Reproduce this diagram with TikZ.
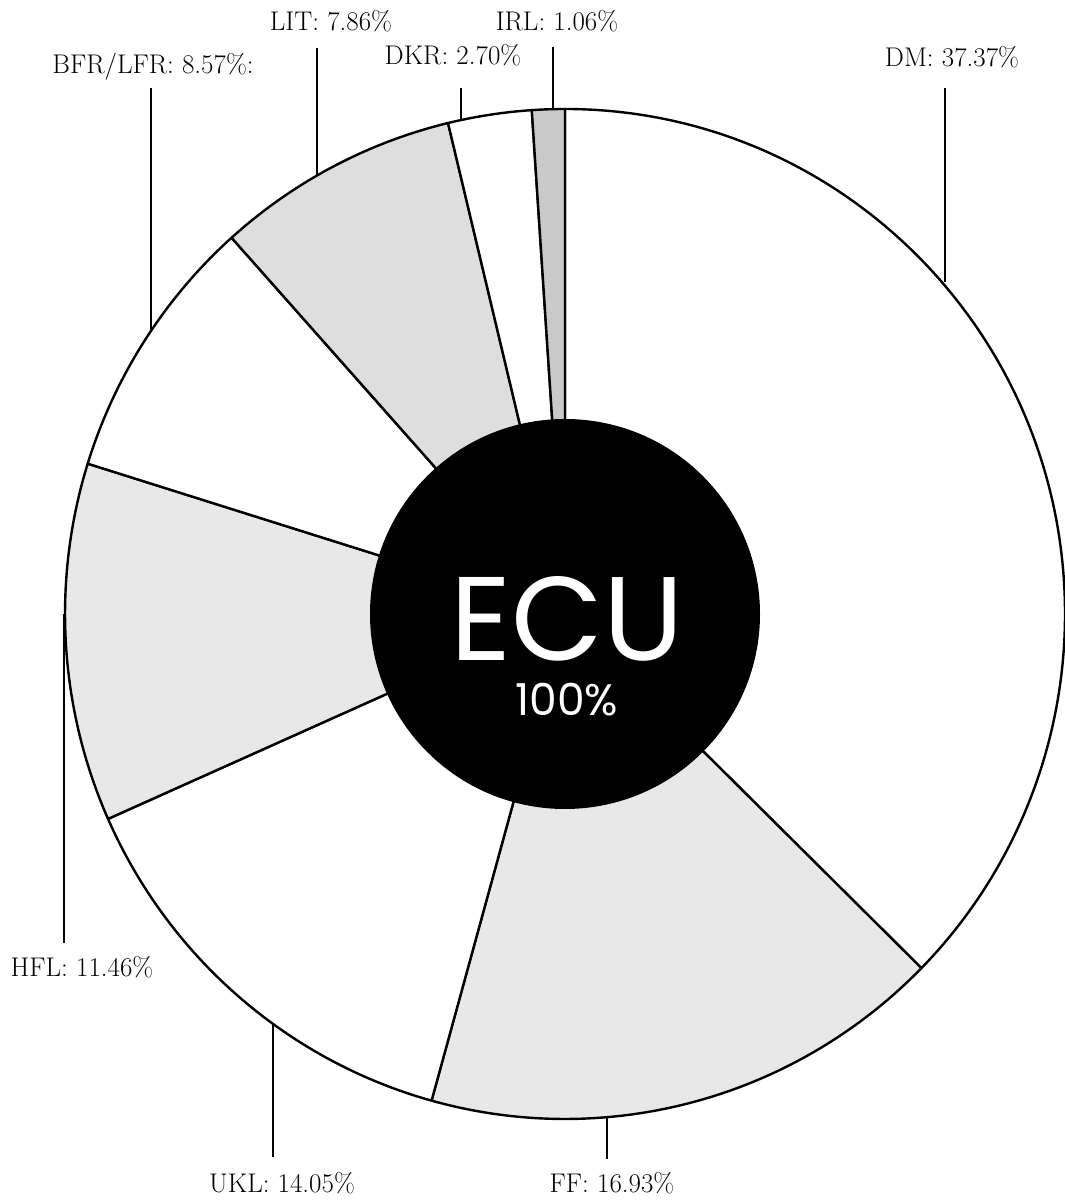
\documentclass[tikz,border=0pt]{standalone}
\usepackage{fontspec}
\newfontfamily\ecufont{Poppins}
\usepackage{tikz}
\pgfdeclarelayer{background}
\pgfdeclarelayer{foreground}
\pgfsetlayers{background,main,foreground}
\tikzset{
  slice/.style={draw=black, line width=2.4pt, line join=round},
  tick/.style={draw=black, line width=2.6pt},
  lbl/.style={anchor=base, inner sep=0pt, font=\fontsize{27}{32}\selectfont},
}

\begin{document}
\begin{tikzpicture}[x=1pt,y=1pt]
\useasboundingbox (0,0) rectangle (1065,1203);
\coordinate (c) at (565,589);
\begin{pgfonlayer}{background}
% shares, clockwise from the top
\draw[slice,fill=white] (c) -- ++(90:500 and 505) arc[start angle=90, end angle=-44.53, x radius=500, y radius=505] -- cycle;
\draw[slice,fill=gray!18] (c) -- ++(-44.53:500 and 505) arc[start angle=-44.53, end angle=-105.48, x radius=500, y radius=505] -- cycle;
\draw[slice,fill=white] (c) -- ++(-105.48:500 and 505) arc[start angle=-105.48, end angle=-156.06, x radius=500, y radius=505] -- cycle;
\draw[slice,fill=gray!18] (c) -- ++(-156.06:500 and 505) arc[start angle=-156.06, end angle=-197.32, x radius=500, y radius=505] -- cycle;
\draw[slice,fill=white] (c) -- ++(-197.32:500 and 505) arc[start angle=-197.32, end angle=-228.17, x radius=500, y radius=505] -- cycle;
\draw[slice,fill=gray!26] (c) -- ++(-228.17:500 and 505) arc[start angle=-228.17, end angle=-256.47, x radius=500, y radius=505] -- cycle;
\draw[slice,fill=white] (c) -- ++(-256.47:500 and 505) arc[start angle=-256.47, end angle=-266.19, x radius=500, y radius=505] -- cycle;
\draw[slice,fill=gray!42] (c) -- ++(-266.19:500 and 505) arc[start angle=-266.19, end angle=-270, x radius=500, y radius=505] -- cycle;
\end{pgfonlayer}
% label lines
\coordinate (dmrim) at (945,921);   \coordinate (dmtop) at (945,1115);
\coordinate (irlrim) at (553,1093); \coordinate (irltop) at (553,1156);
\coordinate (dkrrim) at (461,1083); \coordinate (dkrtop) at (461,1115);
\coordinate (litrim) at (317,1027); \coordinate (littop) at (317,1155);
\coordinate (bfrrim) at (151,872);  \coordinate (bfrtop) at (151,1115);
\coordinate (hflrim) at (64,589);   \coordinate (hflend) at (64,260);
\coordinate (uklrim) at (273,179);  \coordinate (uklend) at (273,46);
\coordinate (ffrim) at (607,86);    \coordinate (ffend) at (607,44);
\draw[tick] (dmrim) -- (dmtop);
\draw[tick] (irlrim) -- (irltop);
\draw[tick] (dkrrim) -- (dkrtop);
\draw[tick] (litrim) -- (littop);
\draw[tick] (bfrrim) -- (bfrtop);
\draw[tick] (hflrim) -- (hflend);
\draw[tick] (uklrim) -- (uklend);
\draw[tick] (ffrim) -- (ffend);
\node[lbl] (dm) at (952,1136) {DM: 37.37\%};
\node[lbl] (irl) at (557,1172) {IRL: 1.06\%};
\node[lbl] (dkr) at (453,1138) {DKR: 2.70\%};
\node[lbl] (lit) at (331,1172) {LIT: 7.86\%};
\node[lbl] (bfr) at (153,1129) {BFR/LFR: 8.57\%:};
\node[lbl] (hfl) at (82,226) {HFL: 11.46\%};
\node[lbl] (ukl) at (282,10) {UKL: 14.05\%};
\node[lbl] (ff) at (612,10) {FF: 16.93\%};
\begin{pgfonlayer}{foreground}
\fill[black] (c) circle[radius=195];
\node[text=white, inner sep=0pt, align=center, font=\ecufont\fontsize{44}{55}\selectfont] (ecu) at (567,557) {{\fontsize{119}{119}\selectfont ECU}\\100\%};
\end{pgfonlayer}
\end{tikzpicture}
\end{document}
